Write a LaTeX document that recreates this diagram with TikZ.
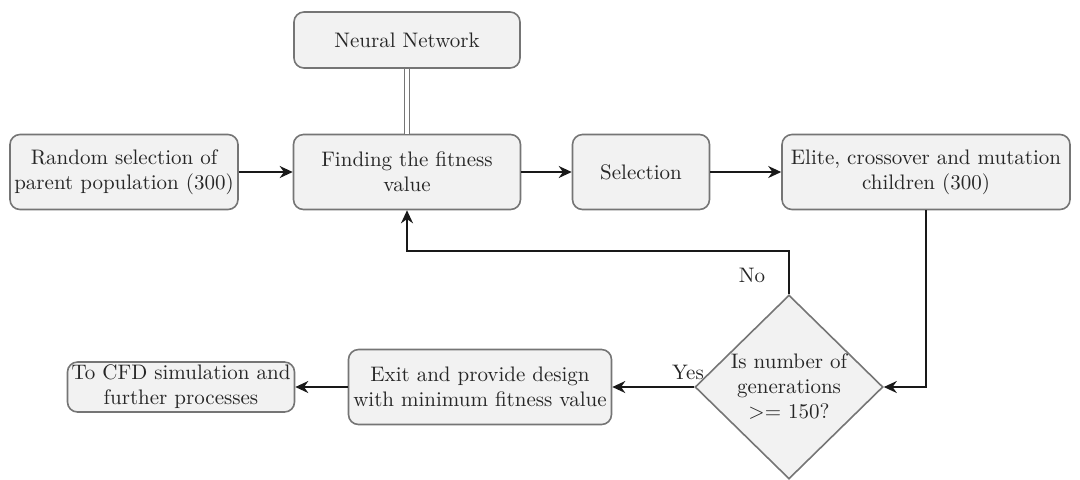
\documentclass[tikz,border=0pt]{standalone}
\usetikzlibrary{shapes.geometric,arrows.meta}
\definecolor{boxfill}{HTML}{F2F2F2}
\definecolor{boxline}{HTML}{757575}
\definecolor{txtgray}{HTML}{262626}
\begin{document}
\begin{tikzpicture}[x=0.5pt,y=-0.5pt,font=\fontsize{10.5}{12.5}\selectfont,
  box/.style={draw=boxline,fill=boxfill,rounded corners=5pt,line width=0.8pt,align=center,text=txtgray,inner sep=1pt},
  decision/.style={diamond,draw=boxline,fill=boxfill,line width=0.8pt,align=center,text=txtgray,inner sep=0pt,minimum width=94pt,minimum height=92pt},
  arr/.style={-{Stealth[length=6.5pt,width=6pt]},line width=0.8pt,draw=black!90},
  dbl/.style={double=white,double distance=1.6pt,draw=boxline,line width=0.6pt},
  lbl/.style={text=txtgray,inner sep=1pt}]
\useasboundingbox (0,0) rectangle (1080,479);
% top row
\node[box,minimum width=113pt,minimum height=28pt] (nn) at (407,40) {Neural Network};
\node[box,minimum width=114pt,minimum height=37.5pt] (rand) at (124,172) {Random selection of\\parent population (300)};
\node[box,minimum width=113.5pt,minimum height=37.5pt] (fit) at (407,172) {Finding the fitness\\value};
\node[box,minimum width=68.5pt,minimum height=37.5pt] (sel) at (641,172) {Selection};
\node[box,minimum width=144pt,minimum height=37.5pt] (elite) at (926,172) {Elite, crossover and mutation\\children (300)};
% bottom row
\node[decision] (gen) at (789,387) {Is number of\\generations\\>= 150?};
\node[box,minimum width=131.5pt,minimum height=37.5pt] (exit) at (480,387) {Exit and provide design\\with minimum fitness value};
\node[box,minimum width=113.5pt,minimum height=25pt] (cfd) at (181,387) {To CFD simulation and\\further processes};
% labels
\node[lbl] (no) at (752,275) {No};
\node[lbl] (yes) at (688,372) {Yes};
% connectors
\draw[dbl] (nn) -- (fit);
\draw[arr] (rand) -- (fit);
\draw[arr] (fit) -- (sel);
\draw[arr] (sel) -- (elite);
\draw[arr] (elite.south) |- (gen.east);
\draw[arr] (gen.north) -- ++(0,-43) -| (fit.south);
\draw[arr] (gen.west) -- (exit);
\draw[arr] (exit) -- (cfd);
\end{tikzpicture}
\end{document}
